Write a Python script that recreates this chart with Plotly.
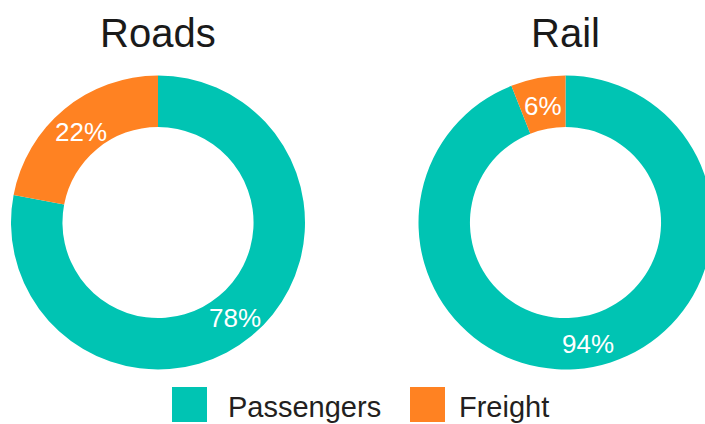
import math
import plotly.graph_objects as go

# Share of transport activity by mode
modes = ["Roads", "Rail"]
segments = ["Passengers", "Freight"]
roads_share = [78, 22]
rail_share = [94, 6]

colors = {"Passengers": "#00C4B3", "Freight": "#FF8222"}
FONT = "Liberation Sans, Arial, Helvetica, sans-serif"

W, H = 720, 424  # canvas is slightly wider than the view so the right ring bleeds off the edge
R_OUT = 147
HOLE = 0.65


def px_x(v):
    return v / W


def px_y(v):
    return (H - v) / H


def ring(values, cx, cy, r):
    return go.Pie(
        labels=segments,
        values=values,
        hole=HOLE,
        sort=False,
        direction="clockwise",
        rotation=0,
        marker=dict(colors=[colors[s] for s in segments], line=dict(width=0)),
        textinfo="none",
        domain=dict(x=[px_x(cx - r), px_x(cx + r)], y=[px_y(cy + r), px_y(cy - r)]),
        showlegend=False,
        hoverinfo="label+percent",
    )


def slice_labels(values, cx, cy, r):
    # percentage labels centred on each slice's mid-angle, halfway across the ring
    total = sum(values)
    r_mid = r * (1 + HOLE) / 2
    out = []
    start = 0.0
    for v in values:
        mid = (start + v / 2) / total * 2 * math.pi
        start += v
        x = cx + r_mid * math.sin(mid)
        y = cy - r_mid * math.cos(mid) + 2.5  # nudge for optical centring of digits
        out.append(dict(
            text=f"{round(v / total * 100)}%", x=px_x(x), y=px_y(y),
            xref="paper", yref="paper", xanchor="center", yanchor="middle",
            showarrow=False, font=dict(family=FONT, size=26, color="white"),
        ))
    return out


centers = {"Roads": (158, 222.5), "Rail": (565.5, 222.5)}
shares = {"Roads": roads_share, "Rail": rail_share}

fig = go.Figure()
annotations = []
for name in modes:
    cx, cy = centers[name]
    fig.add_trace(ring(shares[name], cx, cy, R_OUT))
    annotations += slice_labels(shares[name], cx, cy, R_OUT)
    annotations.append(dict(
        text=name, x=px_x(cx), y=px_y(33), xref="paper", yref="paper",
        xanchor="center", yanchor="middle", showarrow=False,
        font=dict(family=FONT, size=40, color="#1a1a1a"),
    ))

# Legend drawn as swatches plus labels
shapes = []
legend_pos = {"Passengers": (172, 226), "Freight": (410, 457)}
for seg in segments:
    sx, tx = legend_pos[seg]
    shapes.append(dict(
        type="rect", xref="paper", yref="paper",
        x0=px_x(sx), x1=px_x(sx + 35), y0=px_y(422), y1=px_y(387),
        fillcolor=colors[seg], line=dict(width=0),
    ))
    annotations.append(dict(
        text=seg, x=px_x(tx), y=px_y(407), xref="paper", yref="paper",
        xanchor="left", yanchor="middle", showarrow=False,
        font=dict(family=FONT, size=29, color="#231f20"),
    ))

fig.update_layout(
    width=W, height=H,
    margin=dict(l=0, r=0, t=0, b=0),
    paper_bgcolor="white", plot_bgcolor="white",
    annotations=annotations, shapes=shapes,
)

fig.write_html(
    "out.html",
    post_script="document.documentElement.style.overflow='hidden';document.body.style.overflow='hidden';",
)
